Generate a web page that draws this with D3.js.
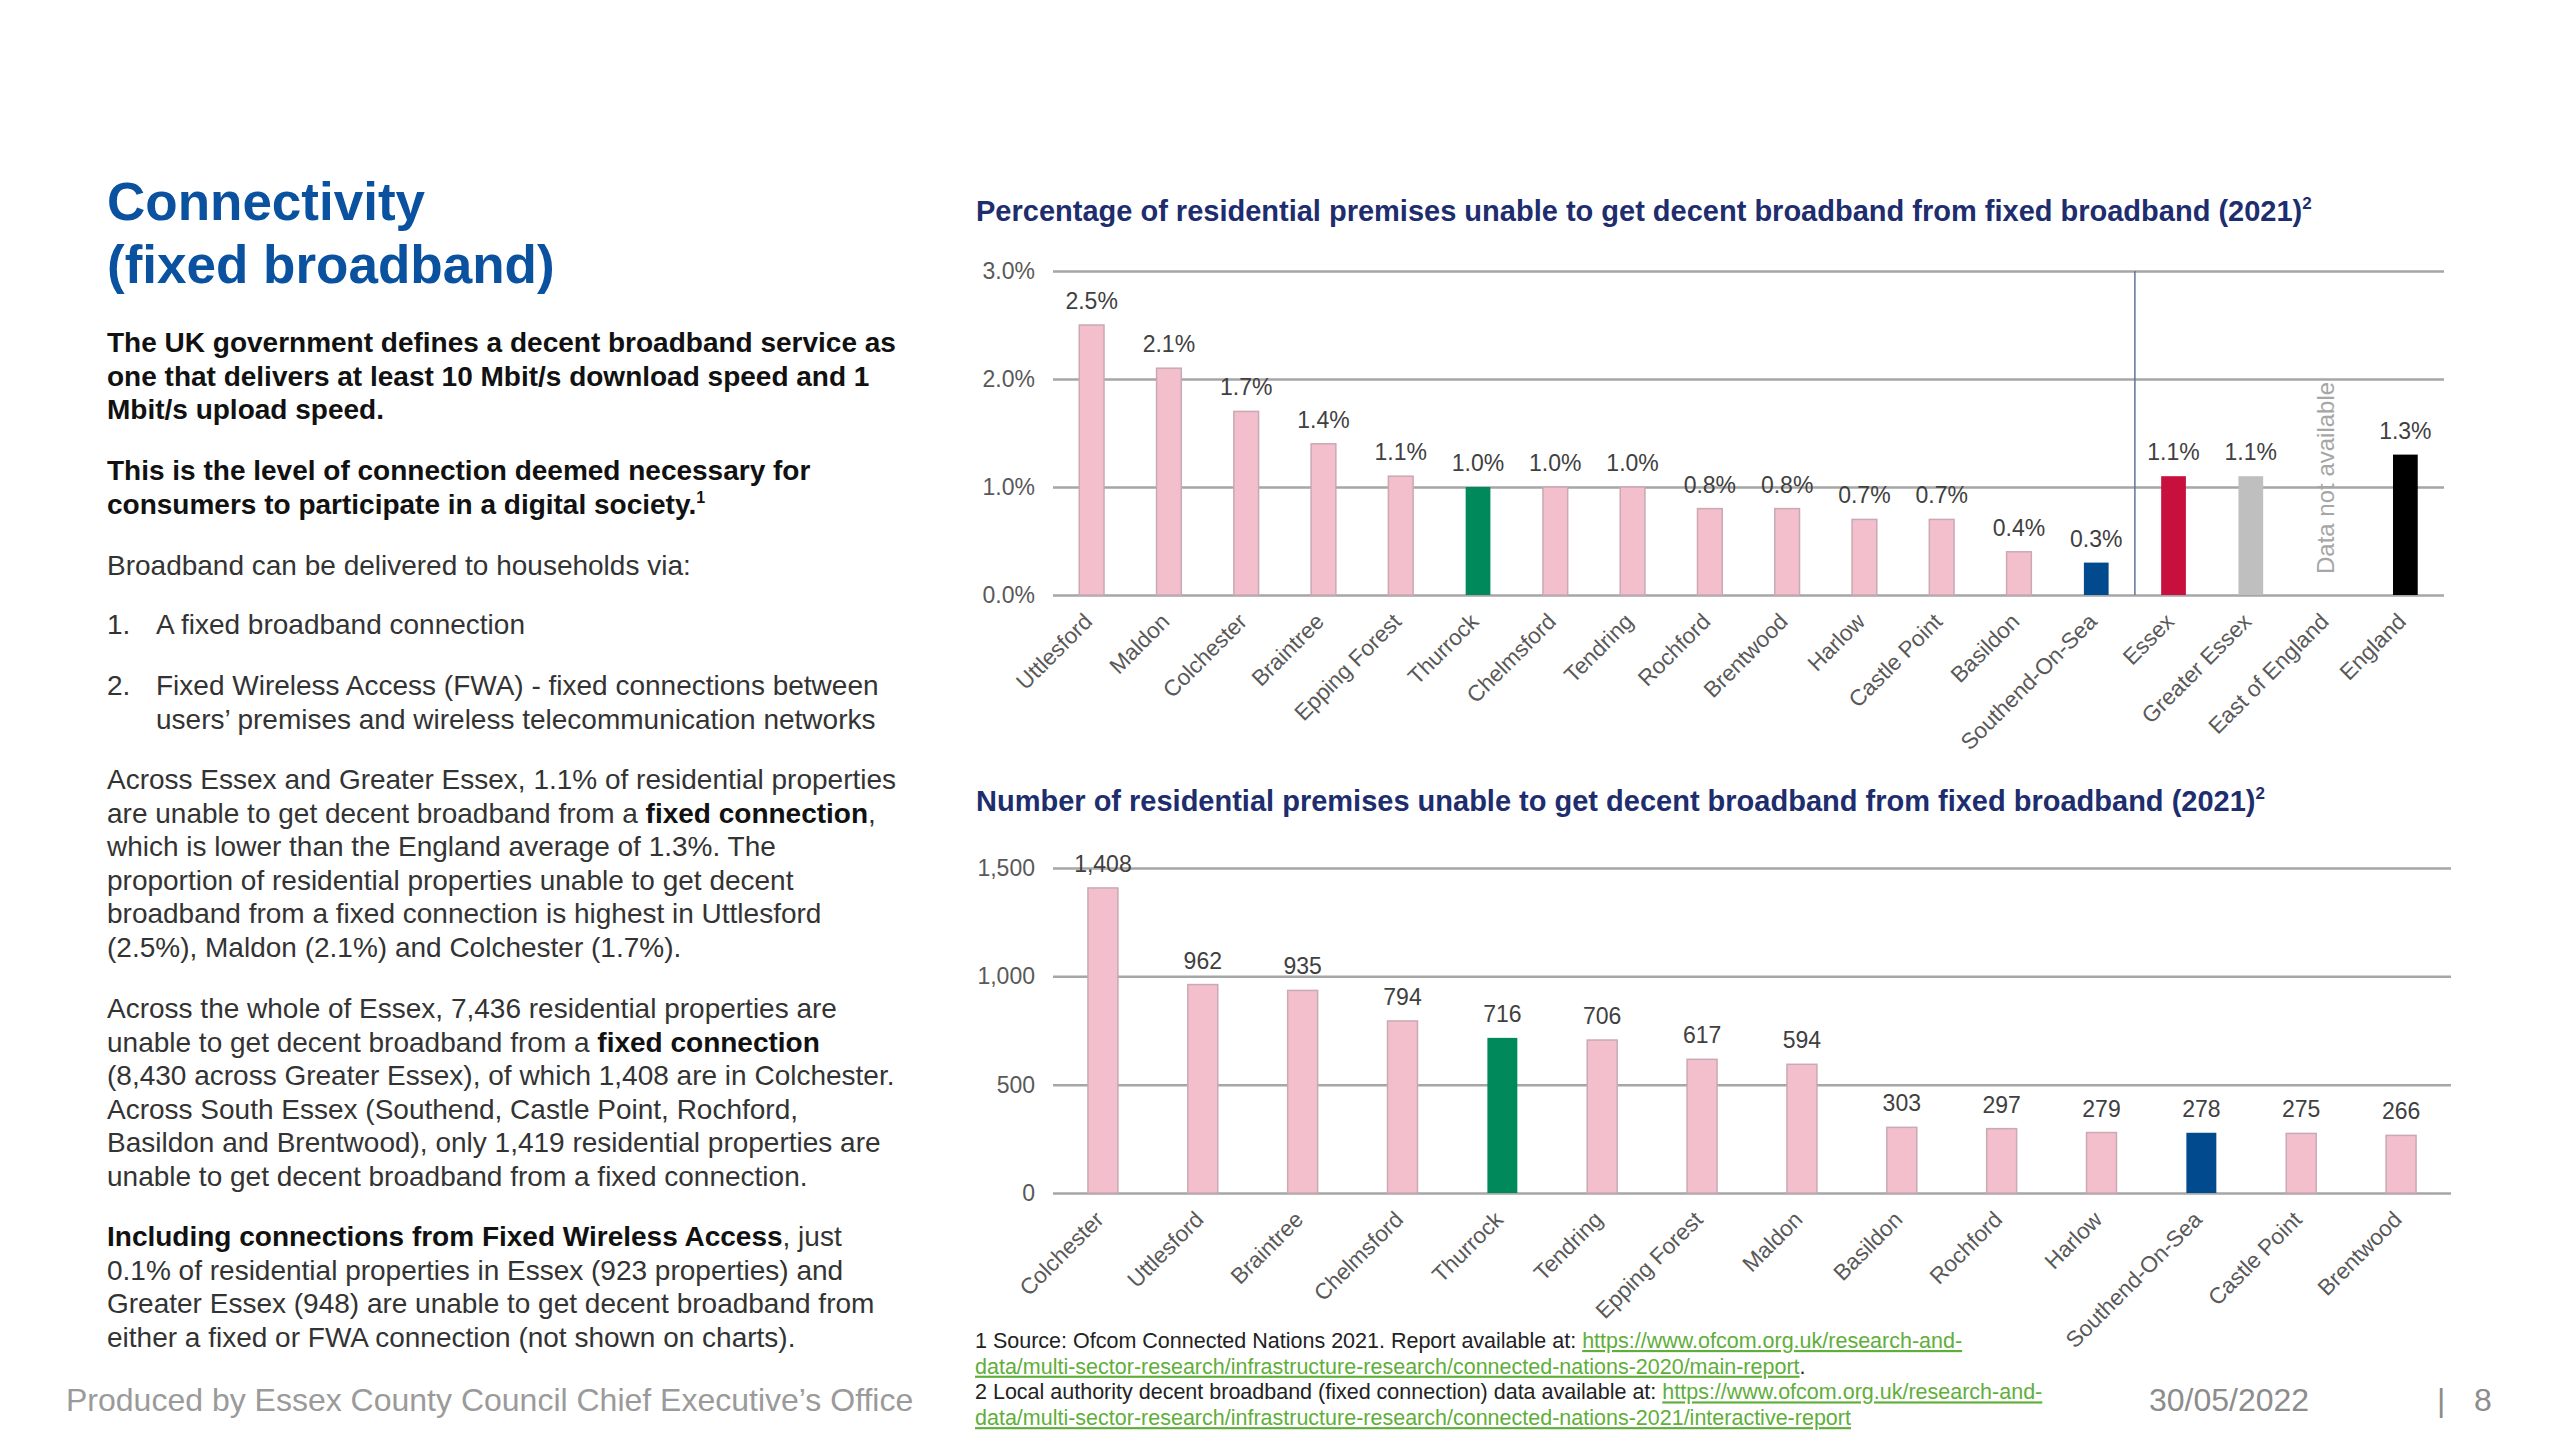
<!DOCTYPE html>
<html>
<head>
<meta charset="utf-8">
<script src="https://cdn.jsdelivr.net/npm/d3@7/dist/d3.min.js"></script>
<style>
  html, body { margin: 0; padding: 0; background: #fff; }
  svg { display: block; font-family: "Liberation Sans", Arial, Helvetica, sans-serif; }
</style>
</head>
<body>
<svg id="page" width="2560" height="1440"></svg>
<script>
// ---- data -------------------------------------------------------------
const pctAreas = ['Uttlesford', 'Maldon', 'Colchester', 'Braintree', 'Epping Forest', 'Thurrock',
  'Chelmsford', 'Tendring', 'Rochford', 'Brentwood', 'Harlow', 'Castle Point', 'Basildon',
  'Southend-On-Sea', 'Essex', 'Greater Essex', 'East of England', 'England'];
const pctValues = [2.5, 2.1, 1.7, 1.4, 1.1, 1.0, 1.0, 1.0, 0.8, 0.8, 0.7, 0.7, 0.4, 0.3, 1.1, 1.1, null, 1.3];
const pctTicks = [0, 1, 2, 3];

const numAreas = ['Colchester', 'Uttlesford', 'Braintree', 'Chelmsford', 'Thurrock', 'Tendring',
  'Epping Forest', 'Maldon', 'Basildon', 'Rochford', 'Harlow', 'Southend-On-Sea', 'Castle Point', 'Brentwood'];
const numValues = [1408, 962, 935, 794, 716, 706, 617, 594, 303, 297, 279, 278, 275, 266];
const numTicks = [0, 500, 1000, 1500];

// bar colours that differ from the default pink
const PINK = '#f3bfcd';
const barColour = {
  'Thurrock': '#008a5c',
  'Southend-On-Sea': '#004a8d',
  'Essex': '#c8103f',
  'Greater Essex': '#bfbfbf',
  'England': '#000000',
};

// ---- left column text ------------------------------------------------------
const introBold = [
  'The UK government defines a decent broadband service as',
  'one that delivers at least 10 Mbit/s download speed and 1',
  'Mbit/s upload speed.',
];
const societyBold = [
  'This is the level of connection deemed necessary for',
  'consumers to participate in a digital society.',
];
const essexPara = [
  [['Across Essex and Greater Essex, 1.1% of residential properties']],
  [['are unable to get decent broadband from a '], ['fixed connection', 1], [',']],
  [['which is lower than the England average of 1.3%. The']],
  [['proportion of residential properties unable to get decent']],
  [['broadband from a fixed connection is highest in Uttlesford']],
  [['(2.5%), Maldon (2.1%) and Colchester (1.7%).']],
];
const wholePara = [
  [['Across the whole of Essex, 7,436 residential properties are']],
  [['unable to get decent broadband from a '], ['fixed connection', 1]],
  [['(8,430 across Greater Essex), of which 1,408 are in Colchester.']],
  [['Across South Essex (Southend, Castle Point, Rochford,']],
  [['Basildon and Brentwood), only 1,419 residential properties are']],
  [['unable to get decent broadband from a fixed connection.']],
];
const fwaPara = [
  [['Including connections from Fixed Wireless Access', 1], [', just']],
  [['0.1% of residential properties in Essex (923 properties) and']],
  [['Greater Essex (948) are unable to get decent broadband from']],
  [['either a fixed or FWA connection (not shown on charts).']],
];

const svg = d3.select('#page');
svg.append('rect').attr('width', 2560).attr('height', 1440).attr('fill', '#fff');

const LEFT = 107;
const LH = 33.6;

// title
const title = svg.append('text').attr('x', LEFT).attr('y', 220)
  .attr('font-size', 53).attr('font-weight', 'bold').attr('fill', '#0a52a0');
title.append('tspan').attr('x', LEFT).text('Connectivity');
title.append('tspan').attr('x', LEFT).attr('dy', 63).text('(fixed broadband)');

function plainLines(lines, y, weight, colour) {
  const t = svg.append('text').attr('x', LEFT).attr('y', y)
    .attr('font-size', 28).attr('font-weight', weight).attr('fill', colour);
  lines.forEach((l, i) => t.append('tspan').attr('x', LEFT).attr('dy', i ? LH : 0).text(l));
  return t;
}

function richLines(lines, y) {
  const t = svg.append('text').attr('x', LEFT).attr('y', y)
    .attr('font-size', 28).attr('fill', '#333');
  lines.forEach((segs, i) => {
    segs.forEach(([s, b], j) => {
      const ts = t.append('tspan').text(s);
      if (j === 0) ts.attr('x', LEFT).attr('dy', i ? LH : 0);
      if (b) ts.attr('font-weight', 'bold').attr('fill', '#111');
    });
  });
}

plainLines(introBold, 352, 'bold', '#111');
const soc = plainLines(societyBold, 480, 'bold', '#111');
soc.append('tspan').attr('font-size', 16).attr('dy', -11).text('1');

plainLines(['Broadband can be delivered to households via:'], 575, 'normal', '#333');

const list = svg.append('g').attr('font-size', 28).attr('fill', '#333');
list.append('text').attr('x', LEFT).attr('y', 634).text('1.');
list.append('text').attr('x', 156).attr('y', 634).text('A fixed broadband connection');
list.append('text').attr('x', LEFT).attr('y', 695).text('2.');
const l2 = list.append('text').attr('x', 156).attr('y', 695);
l2.append('tspan').attr('x', 156).text('Fixed Wireless Access (FWA) - fixed connections between');
l2.append('tspan').attr('x', 156).attr('dy', LH).text('users\u2019 premises and wireless telecommunication networks');

richLines(essexPara, 789);
richLines(wholePara, 1018);
richLines(fwaPara, 1246);

// footer
svg.append('text').attr('x', 66).attr('y', 1411).attr('font-size', 32).attr('fill', '#9a9a9a')
  .text('Produced by Essex County Council Chief Executive\u2019s Office');
svg.append('text').attr('x', 2149).attr('y', 1411).attr('font-size', 32).attr('fill', '#8c8c8c')
  .text('30/05/2022');
svg.append('text').attr('x', 2437).attr('y', 1411).attr('font-size', 32).attr('fill', '#8c8c8c').text('|');
svg.append('text').attr('x', 2474).attr('y', 1411).attr('font-size', 32).attr('fill', '#8c8c8c').text('8');

// ---- charts --------------------------------------------------------------
function barChart(opts) {
  const { areas, values, ticks, top, bottom, left, right, tickFmt, valFmt, titleText, titleY, padInner } = opts;
  const g = svg.append('g');

  const tt = g.append('text').attr('x', 976).attr('y', titleY)
    .attr('font-size', 29).attr('font-weight', 'bold').attr('fill', '#1d2d6e');
  tt.append('tspan').text(titleText);
  tt.append('tspan').attr('font-size', 17).attr('dy', -12).text('2');

  const x = d3.scaleBand().domain(areas).range([left, right])
    .paddingInner(padInner).paddingOuter(padInner / 2);
  const y = d3.scaleLinear().domain([0, ticks[ticks.length - 1]]).range([bottom, top]);

  // gridlines + axis labels
  const yAxis = g.append('g').attr('transform', `translate(${left},0)`)
    .call(d3.axisLeft(y).tickValues(ticks).tickSize(-(right - left)).tickPadding(18).tickFormat(tickFmt));
  yAxis.select('.domain').remove();
  yAxis.selectAll('.tick line').attr('stroke', '#a6a6a6').attr('stroke-width', 2.5);
  yAxis.selectAll('.tick text').attr('font-size', 23).attr('fill', '#595959')
    .attr('font-family', '"Liberation Sans", Arial, sans-serif');

  const rows = areas.map((a, i) => ({ a, v: values[i] })).filter((d) => d.v != null);

  g.append('g').selectAll('rect').data(rows).enter().append('rect')
    .attr('x', (d) => x(d.a))
    .attr('width', x.bandwidth())
    .attr('y', (d) => y(d.v))
    .attr('height', (d) => y(0) - y(d.v))
    .attr('fill', (d) => barColour[d.a] || PINK)
    .attr('stroke', (d) => (barColour[d.a] ? 'none' : '#c9a9b2'))
    .attr('stroke-width', 1.5);

  g.append('g').selectAll('text').data(rows).enter().append('text')
    .attr('x', (d) => x(d.a) + x.bandwidth() / 2)
    .attr('y', (d) => y(d.v) - 16)
    .attr('text-anchor', 'middle')
    .attr('font-size', 23).attr('fill', '#404040')
    .text((d) => valFmt(d.v));

  g.append('g').selectAll('text').data(areas).enter().append('text')
    .attr('transform', (d) => `translate(${x(d) + x.bandwidth() / 2 + 2},${bottom + 28}) rotate(-45)`)
    .attr('text-anchor', 'end')
    .attr('font-size', 22.5).attr('fill', '#595959')
    .text((d) => d);

  return { g, x, y };
}

const c1 = barChart({
  areas: pctAreas, values: pctValues, ticks: pctTicks,
  top: 271, bottom: 595, left: 1053, right: 2444, padInner: 0.68,
  tickFmt: (d) => d.toFixed(1) + '%', valFmt: (d) => d.toFixed(1) + '%',
  titleText: 'Percentage of residential premises unable to get decent broadband from fixed broadband (2021)',
  titleY: 221,
});

// separator between districts and comparators
const sepX = c1.x('Essex') - (c1.x.step() - c1.x.bandwidth()) / 2;
c1.g.append('line').attr('x1', sepX).attr('x2', sepX)
  .attr('y1', c1.y(3)).attr('y2', c1.y(0))
  .attr('stroke', '#5d7594').attr('stroke-width', 1.5);

const naX = c1.x('East of England') + c1.x.bandwidth() / 2;
c1.g.append('text')
  .attr('transform', `translate(${naX},${c1.y(0) - 21}) rotate(-90)`)
  .attr('dominant-baseline', 'middle')
  .attr('font-size', 24).attr('fill', '#a6a6a6')
  .text('Data not available');

barChart({
  areas: numAreas, values: numValues, ticks: numTicks,
  top: 868, bottom: 1193, left: 1053, right: 2451, padInner: 0.7,
  tickFmt: d3.format(','), valFmt: d3.format(','),
  titleText: 'Number of residential premises unable to get decent broadband from fixed broadband (2021)',
  titleY: 811,
});

// ---- footnotes ------------------------------------------------------------
const LINK = '#5fae3a';
const notes = [
  [['1 Source: Ofcom Connected Nations 2021. Report available at: '], ['https://www.ofcom.org.uk/research-and-', 1]],
  [['data/multi-sector-research/infrastructure-research/connected-nations-2020/main-report', 1], ['.']],
  [['2 Local authority decent broadband (fixed connection) data available at: '], ['https://www.ofcom.org.uk/research-and-', 1]],
  [['data/multi-sector-research/infrastructure-research/connected-nations-2021/interactive-report', 1]],
];
const fn = svg.append('text').attr('x', 975).attr('y', 1348).attr('font-size', 21.5).attr('fill', '#222');
notes.forEach((segs, i) => {
  segs.forEach(([s, link], j) => {
    const ts = fn.append('tspan').text(s);
    if (j === 0) ts.attr('x', 975).attr('dy', i ? 25.7 : 0);
    if (link) ts.attr('fill', LINK).attr('text-decoration', 'underline');
  });
});
</script>
</body>
</html>
